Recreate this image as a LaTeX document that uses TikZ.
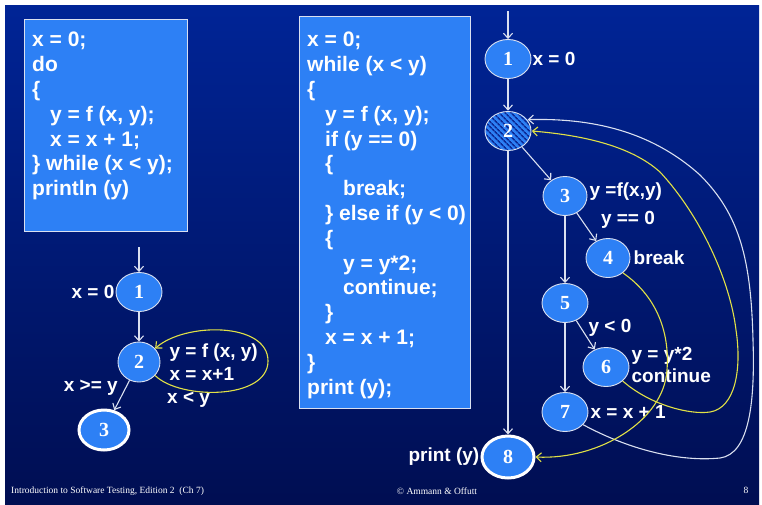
\documentclass[tikz,border=0pt]{standalone}
\usepackage{fontspec}
\setmainfont{Liberation Serif}
\setsansfont{Liberation Sans}
\usetikzlibrary{
	shapes.geometric,
	arrows.meta,
	positioning,
	patterns.meta
}

\definecolor{slidetop}{RGB}{0,36,150}
\definecolor{slidebottom}{RGB}{0,14,82}
\definecolor{nodeblue}{RGB}{45,128,245}
\definecolor{hatchblue}{RGB}{12,42,150}
\definecolor{loopyellow}{RGB}{225,225,70}
\definecolor{rimgray}{RGB}{218,224,240}

\begin{document}
\begin{tikzpicture}[
				x=1pt, y=-1pt,
				cfgnode/.style={
					ellipse, draw=rimgray, line width=0.9pt, fill=nodeblue,
					minimum width=46pt, minimum height=39pt, inner sep=0pt,
					text=white, font=\fontsize{20}{20}\selectfont\bfseries
				},
				finalnode/.style={
					cfgnode, draw=white, line width=3pt
				},
				hatchnode/.style={
					cfgnode, preaction={fill=nodeblue},
					pattern={Lines[angle=-45, distance=4pt, line width=1.6pt]},
					pattern color=hatchblue
				},
				codebox/.style={
					rectangle, draw=rimgray, line width=0.8pt, fill=nodeblue,
					inner sep=0pt, anchor=north west
				},
				codetext/.style={
					anchor=north west, inner sep=0pt, align=left, text=white,
					font=\sffamily\bfseries\fontsize{21}{24.8}\selectfont
				},
				lbl/.style={
					inner sep=1pt, align=left, text=white,
					font=\sffamily\bfseries\fontsize{19}{22.5}\selectfont
				},
				footer/.style={
					inner sep=0pt, text=white, font=\fontsize{9.5}{10}\selectfont
				},
				arrow/.style={-{Straight Barb[length=5pt,width=9pt]}, line width=1.1pt, draw=rimgray},
				looparrow/.style={arrow, draw=loopyellow}
				]
				
				% slide background
				\useasboundingbox (0,0) rectangle (762,504);
				\fill[white] (0,0) rectangle (762,504);
				\shade[top color=slidetop, bottom color=slidebottom] (5,5) rectangle (759,504);
				
				% do-while code
				\node[codebox, minimum width=163pt, minimum height=212pt] (leftcode) at (24,19) {};
				\node[codetext] (leftlines) at (32,32) {x = 0;\\do\\\{\\\hspace*{18pt}y = f (x, y);\\\hspace*{18pt}x = x + 1;\\\} while (x < y);\\println (y)};
				
				% while with break and continue
				\node[codebox, minimum width=171pt, minimum height=392pt] (midcode) at (299,16) {};
				\node[codetext] (midlines) at (307,32) {x = 0;\\while (x < y)\\\{\\\hspace*{18pt}y = f (x, y);\\\hspace*{18pt}if (y == 0)\\\hspace*{18pt}\{\\\hspace*{36pt}break;\\\hspace*{18pt}\} else if (y < 0)\\\hspace*{18pt}\{\\\hspace*{36pt}y = y*2;\\\hspace*{36pt}continue;\\\hspace*{18pt}\}\\\hspace*{18pt}x = x + 1;\\\}\\print (y);};
				
				% left graph
				\coordinate (lin) at (139,247);
				\node[cfgnode] (l1) at (139,292) {1};
				\node[cfgnode, minimum width=42pt, minimum height=40pt] (l2) at (139,362) {2};
				\node[finalnode, minimum width=50pt, minimum height=40pt] (l3) at (104,430) {3};
				
				\node[lbl, left=0pt of l1] (l1text) {x = 0};
				\node[lbl, right=8pt of l2] (l2text) {y = f (x, y)\\x = x+1};
				\node[lbl, anchor=west] (looptext) at (166,400) {x < y};
				\node[lbl, anchor=east] (exittext) at (119,388) {x >= y};
				
				\draw[arrow] (lin) -- (l1);
				\draw[arrow] (l1) -- (l2);
				\draw[arrow] (l2) -- (l3);
				\draw[looparrow] (l2.-40) .. controls (180,400) and (268,400) .. (268,361)
					.. controls (268,322) and (185,322) .. (l2.40);
				
				% right graph
				\coordinate (rin) at (508,11);
				\node[cfgnode] (r1) at (508,59) {1};
				\node[hatchnode] (r2) at (508,131) {2};
				\node[cfgnode, minimum width=44pt] (r3) at (565,196) {3};
				\node[cfgnode, minimum width=44pt] (r4) at (608,258) {4};
				\node[cfgnode] (r5) at (565,303) {5};
				\node[cfgnode] (r6) at (606,367) {6};
				\node[cfgnode] (r7) at (565,412) {7};
				\node[finalnode, minimum width=52pt, minimum height=42pt] (r8) at (508,457) {8};
				
				\node[lbl, right=0pt of r1] (r1text) {x = 0};
				\node[lbl, right=1pt of r3, yshift=4pt] (r3text) {y =f(x,y)};
				\node[lbl] (r34text) at (628,220) {y == 0};
				\node[lbl, right=2pt of r4] (r4text) {break};
				\node[lbl] (r56text) at (610,328) {y < 0};
				\node[lbl, right=1pt of r6, yshift=2pt] (r6text) {y = y*2\\continue};
				\node[lbl, right=1pt of r7] (r7text) {x = x + 1};
				\node[lbl, left=0pt of r8] (r8text) {print (y)};
				
				\draw[arrow] (rin) -- (r1);
				\draw[arrow] (r1) -- (r2);
				\draw[arrow] (r2) -- (r3);
				\draw[arrow] (r3) -- (r4);
				\draw[arrow] (r3) -- (r5);
				\draw[arrow] (r5) -- (r6);
				\draw[arrow] (r5) -- (r7);
				\draw[arrow] (r2) -- (r8);
				
				% back edges and break
				\draw[arrow] (r7.-35) .. controls (630,450) and (680,462) .. (720,458)
					.. controls (750,454) and (755,400) .. (753,340)
					.. controls (751,260) and (740,215) .. (700,175)
					.. controls (650,130) and (590,118) .. (r2.30);
				\draw[looparrow] (r6.-40) .. controls (650,405) and (690,415) .. (710,412)
					.. controls (735,408) and (742,370) .. (736,330)
					.. controls (730,280) and (700,215) .. (660,172)
					.. controls (630,145) and (580,135) .. (r2.0);
				\draw[looparrow] (r4.-45) .. controls (655,295) and (670,330) .. (667,370)
					.. controls (664,420) and (600,460) .. (r8.east);
				
				% footer
				\node[footer, anchor=west] (foottitle) at (11,491) {Introduction to Software Testing, Edition 2~~(Ch 7)};
				\node[footer] (footauthor) at (437,491) {\textcopyright\ Ammann \& Offutt};
				\node[footer] (footpage) at (746,490) {8};
			\end{tikzpicture}
\end{document}
